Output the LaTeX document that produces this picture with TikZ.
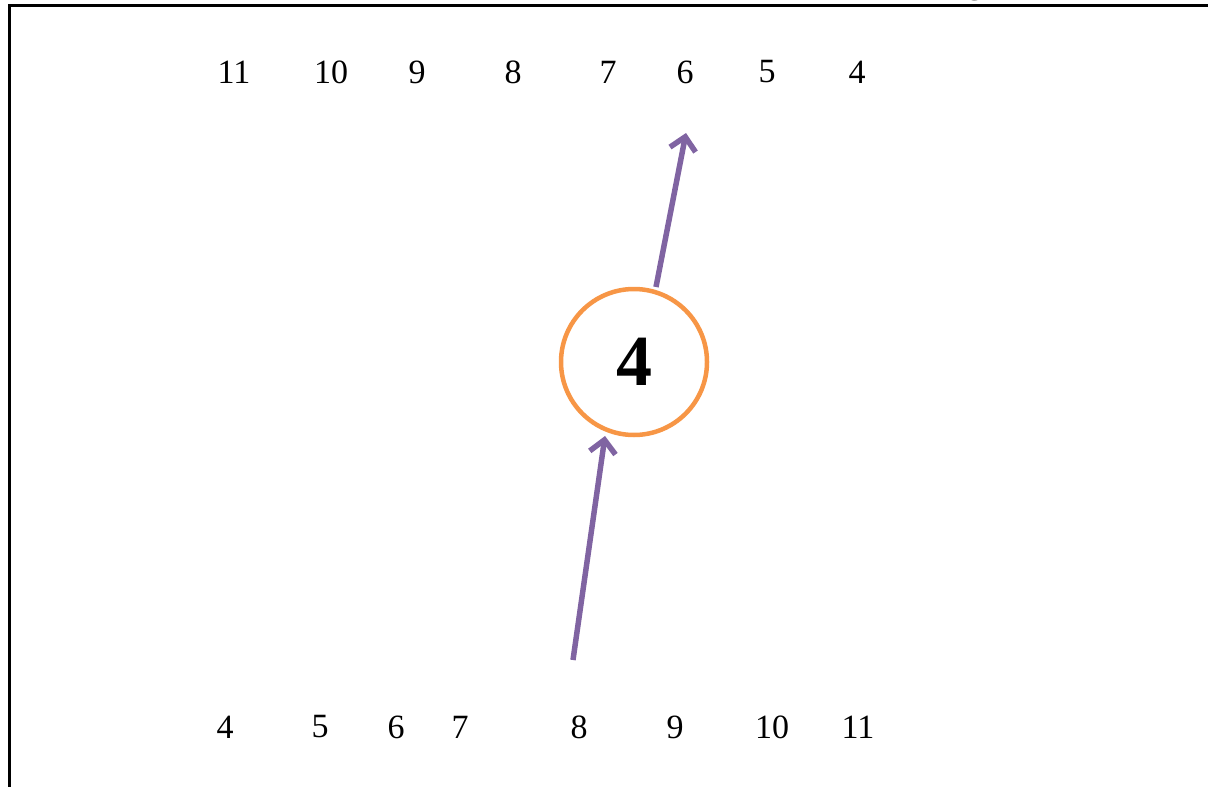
\documentclass[tikz,border=0pt]{standalone}
\usepackage{fontspec}
\setmainfont{Liberation Serif}
\usetikzlibrary{arrows.meta}
\definecolor{ringorange}{RGB}{247,150,70}
\definecolor{arrowpurple}{RGB}{128,100,162}
\begin{document}
\begin{tikzpicture}[x=1pt,y=-1pt,
  num/.style={font=\fontsize{34}{40}\selectfont, inner sep=0pt},
  ring/.style={circle, draw=ringorange, line width=4.5pt, minimum size=146pt, inner sep=0pt, font=\fontsize{72}{80}\selectfont\bfseries},
  parrow/.style={draw=arrowpurple, line width=5.5pt, -{Straight Barb[length=13pt,width=26pt,line width=5.5pt]}},
  frame/.style={line width=3pt}]
\useasboundingbox (0,0) rectangle (1208,787);
% frame
\draw[frame] (1208,5) -- (9,5) -- (9,787);
\node[num, anchor=base] (g) at (975,-6) {g};
% top row
\foreach \n/\x in {11/234,10/331,9/417,8/513,7/608,6/685,5/767,4/857}
  \node[num] (t\n) at (\x,72) {\n};
% bottom row
\foreach \n/\x in {4/225,5/320,6/396,7/460,8/579,9/675,10/772,11/858}
  \node[num] (b\n) at (\x,727) {\n};
% circle
\node[ring] (c) at (634,362) {4};
% arrows
\coordinate (upstart) at (656,287);
\coordinate (uptip) at (686,133);
\coordinate (lowstart) at (573,660);
\coordinate (lowtip) at (605,436);
\draw[parrow] (upstart) -- (uptip);
\draw[parrow] (lowstart) -- (lowtip);
\end{tikzpicture}
\end{document}
